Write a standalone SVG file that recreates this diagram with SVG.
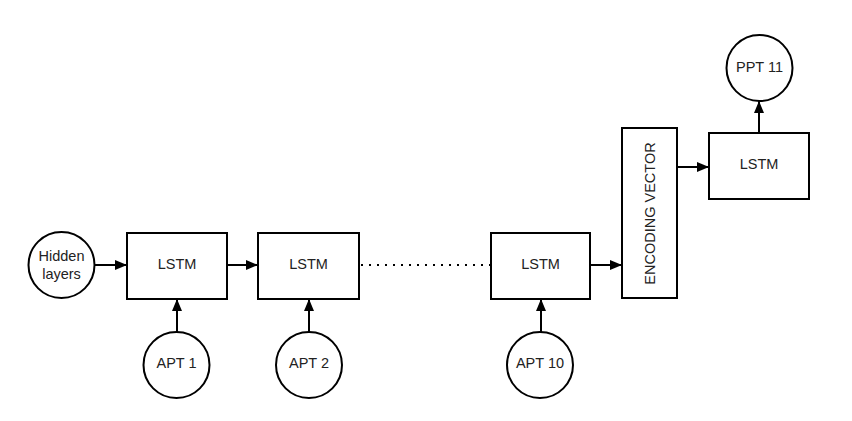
<svg xmlns="http://www.w3.org/2000/svg" width="852" height="421" viewBox="0 0 852 421">
  <style>
    .box { fill: #ffffff; stroke: #000000; stroke-width: 2; }
    .lbl { font-family: "Liberation Sans", Arial, sans-serif; font-size: 14.5px; fill: #222222; text-anchor: middle; dominant-baseline: central; }
    .edge { fill: none; stroke: #000000; stroke-width: 2; }
    .dots { fill: none; stroke: #000000; stroke-width: 2; stroke-dasharray: 2 6; }
  </style>
  <defs>
    <marker id="arrow" viewBox="0 0 12 10" refX="12" refY="5" markerWidth="12" markerHeight="10" markerUnits="userSpaceOnUse" orient="auto">
      <path d="M0,0 L12,5 L0,10 Z" fill="#000000"/>
    </marker>
  </defs>
  <rect width="852" height="421" fill="#ffffff"/>

  <g id="connectors">
    <line class="edge" x1="95" y1="265" x2="127" y2="265" marker-end="url(#arrow)"/>
    <line class="edge" x1="227" y1="265" x2="258" y2="265" marker-end="url(#arrow)"/>
    <line class="dots" x1="361" y1="265" x2="491" y2="265"/>
    <line class="edge" x1="590" y1="265" x2="622" y2="265" marker-end="url(#arrow)"/>
    <line class="edge" x1="677" y1="167" x2="709" y2="167" marker-end="url(#arrow)"/>
    <line class="edge" x1="759" y1="133" x2="759" y2="101" marker-end="url(#arrow)"/>
    <line class="edge" x1="177" y1="332" x2="177" y2="299" marker-end="url(#arrow)"/>
    <line class="edge" x1="309" y1="332" x2="309" y2="299" marker-end="url(#arrow)"/>
    <line class="edge" x1="541" y1="332" x2="541" y2="299" marker-end="url(#arrow)"/>
  </g>

  <g id="hidden-layers">
    <circle class="box" cx="61.5" cy="265" r="33"/>
    <text class="lbl" x="61.5" y="256">Hidden</text>
    <text class="lbl" x="61.5" y="274">layers</text>
  </g>

  <g id="lstm-1">
    <rect class="box" x="127" y="233" width="100" height="66"/>
    <text class="lbl" x="177" y="264">LSTM</text>
  </g>
  <g id="lstm-2">
    <rect class="box" x="258" y="233" width="101" height="66"/>
    <text class="lbl" x="308.5" y="264">LSTM</text>
  </g>
  <g id="lstm-10">
    <rect class="box" x="491" y="233" width="99" height="66"/>
    <text class="lbl" x="540.5" y="264">LSTM</text>
  </g>

  <g id="encoding-vector">
    <rect class="box" x="622" y="128" width="55" height="170"/>
    <text class="lbl" transform="translate(650 213.5) rotate(-90)">ENCODING VECTOR</text>
  </g>

  <g id="lstm-decoder">
    <rect class="box" x="709" y="133" width="100" height="66"/>
    <text class="lbl" x="759" y="164">LSTM</text>
  </g>

  <g id="ppt-11">
    <circle class="box" cx="759.5" cy="68" r="33"/>
    <text class="lbl" x="759.5" y="67">PPT 11</text>
  </g>

  <g id="apt-1">
    <circle class="box" cx="176.5" cy="365" r="33"/>
    <text class="lbl" x="176.5" y="363">APT 1</text>
  </g>
  <g id="apt-2">
    <circle class="box" cx="309" cy="365" r="33"/>
    <text class="lbl" x="309" y="363">APT 2</text>
  </g>
  <g id="apt-10">
    <circle class="box" cx="540" cy="365" r="33"/>
    <text class="lbl" x="540" y="363">APT 10</text>
  </g>
</svg>
